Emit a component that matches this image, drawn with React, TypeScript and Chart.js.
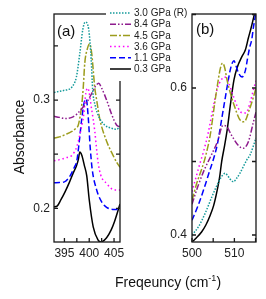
import React, { useEffect, useRef } from 'react';
import { Chart, registerables } from 'chart.js';

Chart.register(...registerables);

// ---------- legend / series names ----------
const seriesNames = ['3.0 GPa (R)', '8.4 GPa', '4.5 GPa', '3.6 GPa', '1.1 GPa', '0.3 GPa'];

// ---------- panel (a) data ----------
const aFreq30R = [392.9, 394, 395, 396, 396.5, 397.4, 398.1, 398.7, 399.2, 399.9, 400.4, 400.7, 401.2, 402, 403.1, 404.5, 405.5, 406.2];
const aAbs30R = [0.307, 0.308, 0.309, 0.310, 0.312, 0.321, 0.343, 0.365, 0.372, 0.365, 0.337, 0.309, 0.295, 0.284, 0.277, 0.274, 0.273, 0.276];

const aFreq84 = [392.9, 394, 395, 396.5, 397.5, 398.5, 399.5, 400.5, 401.3, 401.9, 402.5, 403.5, 404.5, 405.5, 406.2];
const aAbs84 = [0.285, 0.284, 0.283, 0.284, 0.287, 0.292, 0.298, 0.306, 0.313, 0.3155, 0.311, 0.300, 0.287, 0.277, 0.275];

const aFreq45 = [392.9, 394, 395.1, 396.5, 397.3, 397.8, 398.5, 398.8, 399.1, 399.6, 400.1, 400.5, 400.8, 401.1, 401.5, 402.1, 403.5, 404.8, 405.6, 406.2];
const aAbs45 = [0.265, 0.266, 0.268, 0.271, 0.274, 0.277, 0.296, 0.312, 0.334, 0.347, 0.352, 0.343, 0.328, 0.312, 0.300, 0.283, 0.262, 0.249, 0.242, 0.238];

const aFreq36 = [392.9, 394, 395.5, 396.5, 397.5, 398.2, 398.9, 399.3, 399.7, 400.5, 401.1, 401.5, 401.8, 402.3, 403.5, 405.1, 406.2];
const aAbs36 = [0.244, 0.245, 0.247, 0.249, 0.257, 0.270, 0.287, 0.306, 0.311, 0.291, 0.272, 0.254, 0.242, 0.231, 0.223, 0.217, 0.217];

const aFreq11 = [392.9, 394, 395, 396, 397, 397.5, 398, 398.5, 399, 399.4, 399.8, 400.2, 400.6, 401.5, 402.5, 403.5, 405, 406.2];
const aAbs11 = [0.2236, 0.224, 0.2245, 0.229, 0.238, 0.244, 0.262, 0.283, 0.298, 0.301, 0.284, 0.256, 0.236, 0.217, 0.206, 0.201, 0.199, 0.199];

const aFreq03 = [392.9, 393.5, 394.3, 395.1, 396, 396.8, 397.4, 397.8, 398.1, 398.5, 399, 399.5, 400, 400.8, 401.8, 402.3, 403.5, 404.4, 405.1, 406.2];
const aAbs03 = [0.2015, 0.202, 0.208, 0.215, 0.224, 0.233, 0.239, 0.245, 0.252, 0.249, 0.240, 0.230, 0.208, 0.183, 0.1707, 0.169, 0.173, 0.180, 0.188, 0.204];

// ---------- panel (b) data ----------
const bFreq30R = [500, 501.5, 503.1, 504.7, 506.3, 507.3, 507.8, 508.5, 509, 509.8, 510.5, 511.3, 512.9, 513.7, 515.1];
const bAbs30R = [0.400, 0.411, 0.4295, 0.452, 0.4725, 0.482, 0.484, 0.480, 0.476, 0.4725, 0.477, 0.484, 0.502, 0.509, 0.532];

const bFreq84 = [500, 501.5, 503, 504.5, 506, 507.3, 508.1, 509.3, 510.9, 512.1, 513.3, 514.5, 515.1];
const bAbs84 = [0.442, 0.468, 0.490, 0.508, 0.527, 0.549, 0.548, 0.536, 0.522, 0.518, 0.527, 0.554, 0.567];

const bFreq45 = [500, 501.1, 502.3, 503.1, 504.3, 505.4, 506, 506.7, 507.2, 507.7, 508.3, 509.1, 509.8, 511.4, 512.3, 513.5, 514.3, 515.1];
const bAbs45 = [0.447, 0.470, 0.490, 0.505, 0.536, 0.581, 0.604, 0.627, 0.634, 0.628, 0.610, 0.592, 0.579, 0.556, 0.554, 0.570, 0.584, 0.600];

const bFreq36 = [500, 501.1, 501.9, 502.7, 503.9, 505.1, 506, 506.8, 507.6, 508.3, 509.5, 510.7, 511.9, 512.7, 513.8, 514.6, 515.1];
const bAbs36 = [0.459, 0.4816, 0.498, 0.513, 0.541, 0.577, 0.600, 0.610, 0.615, 0.612, 0.593, 0.575, 0.566, 0.566, 0.582, 0.600, 0.610];

const bFreq11 = [500, 501.5, 503, 504.2, 505, 506, 507.1, 508.3, 509, 509.5, 509.9, 510.4, 511, 511.8, 512.6, 513.1, 513.6, 514.1, 514.5, 515];
const bAbs11 = [0.420, 0.441, 0.466, 0.488, 0.502, 0.524, 0.561, 0.602, 0.624, 0.634, 0.637, 0.630, 0.620, 0.615, 0.624, 0.640, 0.655, 0.666, 0.683, 0.700];

const bFreq03 = [500.1, 501, 502.3, 503.3, 504.3, 505.1, 505.8, 506.5, 507, 507.7, 508.3, 509.1, 509.9, 510.6, 511.8, 512.6, 513.3, 514, 514.7, 515.1];
const bAbs03 = [0.391, 0.396, 0.4045, 0.414, 0.427, 0.440, 0.457, 0.478, 0.500, 0.522, 0.543, 0.579, 0.611, 0.627, 0.643, 0.652, 0.668, 0.683, 0.700, 0.710];

// ---------- ticks ----------
const aXTicks = [395, 397.5, 400, 402.5, 405];
const aXLabels = [395, 400, 405];
const aYTicks = [0.2, 0.25, 0.3, 0.35];
const aYLabels = [0.2, 0.3];
const bXTicks = [500, 505, 510, 515];
const bXLabels = [500, 510];
const bYTicks = [0.4, 0.5, 0.6, 0.7];
const bYLabels = [0.4, 0.6];

// ---------- styles ----------
const colors = ['#149a9a', '#8e1c8e', '#9c9c1c', '#ff00ff', '#0000ff', '#000000'];
const dashes: number[][] = [[1.5, 1.5], [6, 2, 1.5, 2, 1.5, 2], [7, 2, 2, 2], [1.5, 2.8], [6, 3], []];
const FONT = '"Liberation Sans", Arial, Helvetica, sans-serif';

function pts(xs: number[], ys: number[]) {
  return xs.map((x, i) => ({ x, y: ys[i] }));
}

function makeDatasets(sets: [number[], number[]][]) {
  return sets.map(([xs, ys], i) => ({
    label: seriesNames[i],
    data: pts(xs, ys),
    borderColor: colors[i],
    borderWidth: 1.5,
    borderDash: dashes[i],
    pointRadius: 0,
    fill: false,
    cubicInterpolationMode: 'monotone' as const,
  }));
}

function framePlugin(label: string, dx: number, dy: number, withLegend: boolean) {
  return {
    id: 'frame_' + label,
    afterDatasetsDraw(chart: any) {
      const { ctx, chartArea: ca, scales } = chart;
      ctx.save();
      ctx.strokeStyle = '#1a1a1a';
      ctx.lineWidth = 1.3;
      ctx.setLineDash([]);
      ctx.strokeRect(ca.left, ca.top, ca.right - ca.left, ca.bottom - ca.top);
      ctx.beginPath();
      scales.x.ticks.forEach((t: any) => {
        const px = scales.x.getPixelForValue(t.value);
        ctx.moveTo(px, ca.bottom);
        ctx.lineTo(px, ca.bottom - 4);
      });
      scales.y.ticks.forEach((t: any) => {
        const py = scales.y.getPixelForValue(t.value);
        ctx.moveTo(ca.left, py);
        ctx.lineTo(ca.left + 4, py);
        ctx.moveTo(ca.right, py);
        ctx.lineTo(ca.right - 4, py);
      });
      ctx.stroke();
      ctx.fillStyle = '#111';
      ctx.font = '15px ' + FONT;
      ctx.textBaseline = 'alphabetic';
      ctx.textAlign = 'left';
      ctx.fillText(label, ca.left + dx, ca.top + dy);
      ctx.restore();
    },
    afterDraw(chart: any) {
      if (!withLegend) return;
      const { ctx } = chart;
      ctx.save();
      ctx.fillStyle = '#ffffff';
      ctx.fillRect(106, 4, 82, 77);
      seriesNames.forEach((name, i) => {
        const y = 13 + i * 11.2;
        ctx.beginPath();
        ctx.strokeStyle = colors[i];
        ctx.lineWidth = 1.5;
        ctx.setLineDash(dashes[i]);
        ctx.moveTo(110, y);
        ctx.lineTo(131, y);
        ctx.stroke();
        ctx.setLineDash([]);
        ctx.fillStyle = '#222';
        ctx.font = '10px ' + FONT;
        ctx.textBaseline = 'middle';
        ctx.textAlign = 'left';
        ctx.fillText(name, 134, y + 0.5);
      });
      ctx.restore();
    },
  };
}

function makeConfig(
  datasets: any[],
  xr: [number, number],
  yr: [number, number],
  xt: number[], xl: number[], yt: number[], yl: number[],
  yWidth: number, yPad: number,
  padding: any,
  plugin: any
) {
  return {
    type: 'line' as const,
    data: { datasets },
    options: {
      responsive: false,
      animation: false as const,
      events: [] as any[],
      layout: { padding },
      plugins: { legend: { display: false }, tooltip: { enabled: false }, title: { display: false } },
      scales: {
        x: {
          type: 'linear' as const,
          min: xr[0],
          max: xr[1],
          afterBuildTicks: (s: any) => { s.ticks = xt.map((v) => ({ value: v })); },
          afterFit: (s: any) => { s.height = 20; },
          grid: { display: false, drawTicks: false },
          border: { display: false },
          ticks: {
            autoSkip: false,
            maxRotation: 0,
            padding: 4,
            color: '#222',
            font: { family: FONT, size: 12 },
            callback: (v: any) => (xl.includes(v) ? String(v) : ''),
          },
        },
        y: {
          type: 'linear' as const,
          min: yr[0],
          max: yr[1],
          afterBuildTicks: (s: any) => { s.ticks = yt.map((v) => ({ value: v })); },
          afterFit: (s: any) => { s.width = yWidth; },
          grid: { display: false, drawTicks: false },
          border: { display: false },
          ticks: {
            autoSkip: false,
            padding: yPad,
            color: '#222',
            font: { family: FONT, size: 12 },
            callback: (v: any) => (yl.includes(v) ? Number(v).toFixed(1) : ''),
          },
        },
      },
    },
    plugins: [plugin],
  };
}

export default function App() {
  const refA = useRef<HTMLCanvasElement>(null);
  const refB = useRef<HTMLCanvasElement>(null);

  useEffect(() => {
    const dsA = makeDatasets([
      [aFreq30R, aAbs30R], [aFreq84, aAbs84], [aFreq45, aAbs45],
      [aFreq36, aAbs36], [aFreq11, aAbs11], [aFreq03, aAbs03],
    ]);
    const dsB = makeDatasets([
      [bFreq30R, bAbs30R], [bFreq84, bAbs84], [bFreq45, bAbs45],
      [bFreq36, bAbs36], [bFreq11, bAbs11], [bFreq03, bAbs03],
    ]);
    const chartB = new Chart(refB.current as HTMLCanvasElement, makeConfig(
      dsB, [500, 515.1], [0.3905, 0.7007], bXTicks, bXLabels, bYTicks, bYLabels,
      42, 5, { left: 0, top: 14, right: 10, bottom: 37 }, framePlugin('(b)', 4, 20, false)
    ) as any);
    const chartA = new Chart(refA.current as HTMLCanvasElement, makeConfig(
      dsA, [392.9, 406.2], [0.169, 0.3794], aXTicks, aXLabels, aYTicks, aYLabels,
      54, 4, { left: 0, top: 14, right: 70, bottom: 37 }, framePlugin('(a)', 3, 22, true)
    ) as any);
    return () => {
      chartA.destroy();
      chartB.destroy();
    };
  }, []);

  return (
    <div style={{ position: 'fixed', left: 0, top: 0, width: 266, height: 299, background: '#fff', fontFamily: FONT }}>
      <canvas ref={refB} width={116} height={299} style={{ position: 'absolute', left: 150, top: 0, width: 116, height: 299 }} />
      <canvas ref={refA} width={190} height={299} style={{ position: 'absolute', left: 0, top: 0, width: 190, height: 299 }} />
      <div
        style={{
          position: 'absolute', left: 18.6 - 50, top: 136.5 - 7, width: 100, height: 14,
          lineHeight: '14px', fontSize: 14, textAlign: 'center', color: '#111',
          transform: 'rotate(-90deg)', transformOrigin: '50% 50%', whiteSpace: 'nowrap',
        }}
      >
        Absorbance
      </div>
      <div
        style={{
          position: 'absolute', left: 115, top: 275, height: 14,
          lineHeight: '14px', fontSize: 14, color: '#111', whiteSpace: 'nowrap',
        }}
      >
        Freqeuncy (cm<sup style={{ fontSize: 9, lineHeight: 0, verticalAlign: '6px' }}>-1</sup>)
      </div>
    </div>
  );
}
